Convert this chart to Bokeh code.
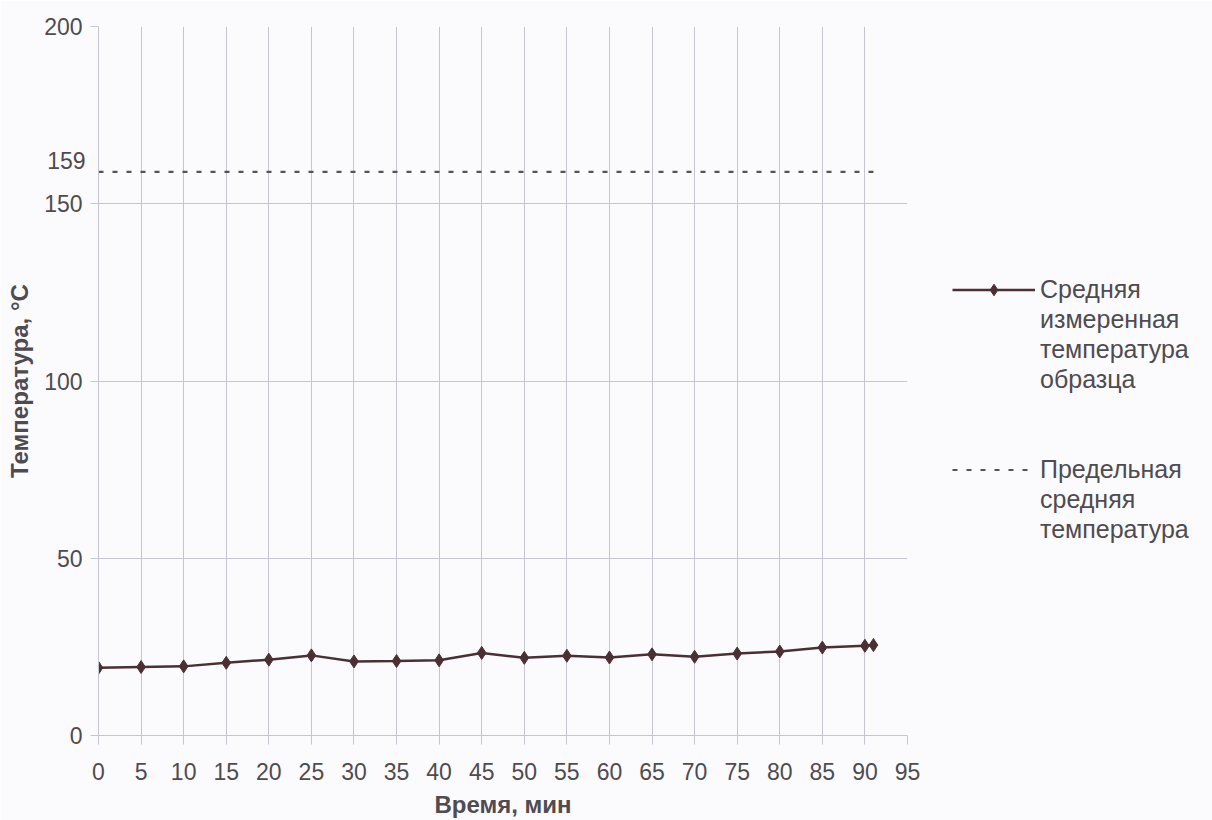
from bokeh.plotting import figure
from bokeh.models import Legend, LegendItem, FixedTicker, Label, ColumnDataSource
from bokeh.embed import file_html
from bokeh.resources import INLINE

# ---- data ----
time_min = [0, 5, 10, 15, 20, 25, 30, 35, 40, 45, 50, 55, 60, 65, 70, 75, 80, 85, 90, 91]
mean_temp = [19.1, 19.3, 19.5, 20.5, 21.4, 22.6, 20.9, 21.0, 21.2, 23.3,
             21.9, 22.5, 22.0, 22.9, 22.2, 23.1, 23.7, 24.8, 25.3, 25.5]
limit_time = [0, 91]
limit_value = 159
limit_temp = [limit_value, limit_value]
x_ticks = list(range(0, 100, 5))
y_ticks = [0, 50, 100, 150, 200]
series_labels = [
    ["Средняя", "измеренная", "температура", "образца"],
    ["Предельная", "средняя", "температура"],
]
x_label = "Время, мин"
y_label = "Температура, °C"

FONT = "Liberation Sans"
TEXT = "#4f4b50"
GRID = "#c6c6d0"
BG = "#fbfbfd"

p = figure(frame_width=809, frame_height=709, x_range=(0, 95), y_range=(0, 200),
           output_backend="svg", toolbar_location=None,
           min_border_left=98, min_border_top=26, min_border_right=305, min_border_bottom=85)
p.background_fill_color = BG
p.border_fill_color = BG
p.outline_line_color = None

# grid
p.xgrid.ticker = FixedTicker(ticks=x_ticks)
p.ygrid.ticker = FixedTicker(ticks=y_ticks)
for g in (p.xgrid, p.ygrid):
    g.grid_line_color = GRID
    g.grid_line_width = 1

# axes
p.xaxis.ticker = FixedTicker(ticks=x_ticks)
p.yaxis.ticker = FixedTicker(ticks=y_ticks)
for ax in (p.xaxis, p.yaxis):
    ax.axis_line_color = GRID
    ax.major_tick_line_color = GRID
    ax.minor_tick_line_color = None
    ax.major_tick_in = 0
    ax.major_label_text_font = FONT
    ax.major_label_text_font_size = "23px"
    ax.major_label_text_color = TEXT
    ax.axis_label_text_font = FONT
    ax.axis_label_text_font_size = "24px"
    ax.axis_label_text_font_style = "bold"
    ax.axis_label_text_color = TEXT
p.xaxis.major_tick_out = 9
p.yaxis.major_tick_out = 8
p.xaxis.major_label_standoff = 18
p.yaxis.major_label_standoff = 8
p.xaxis.axis_label = x_label
p.yaxis.axis_label = y_label
p.xaxis.axis_label_standoff = 8
p.yaxis.axis_label_standoff = 8

# series
src = ColumnDataSource(dict(t=time_min, v=mean_temp))
limit_r = p.line(limit_time, limit_temp, line_color="#555358", line_width=2.2, line_dash="5 9")
line_r = p.line("t", "v", source=src, line_color="#4a3034", line_width=2.5)
mark_r = p.scatter("t", "v", source=src, marker="diamond", size=13,
                   fill_color="#4a3034", line_color="#4a3034")
dummy = p.line(x=[], y=[], line_alpha=0)

# legend (outside the frame, right side)
items = [LegendItem(label=series_labels[0][0], renderers=[line_r, mark_r])]
items += [LegendItem(label=lab, renderers=[dummy]) for lab in series_labels[0][1:]]
items += [LegendItem(label=" ", renderers=[dummy]), LegendItem(label="  ", renderers=[dummy])]
items += [LegendItem(label=series_labels[1][0], renderers=[limit_r])]
items += [LegendItem(label=lab, renderers=[dummy]) for lab in series_labels[1][1:]]

legend = Legend(items=items, location=(45, 191), glyph_width=83, glyph_height=29,
                label_height=29, spacing=1, padding=0, margin=0, label_standoff=5,
                border_line_color=None, background_fill_alpha=0,
                label_text_font=FONT, label_text_font_size="25px", label_text_color=TEXT)
p.add_layout(legend, "right")

# 159 label beside the y axis (placed in the roomy right panel so it is not clipped)
p.add_layout(Label(x=0, y=limit_value, text=str(limit_value), x_offset=-13, y_offset=11,
                   text_align="right", text_baseline="middle", text_font=FONT,
                   text_font_size="23px", text_color=TEXT), "right")

open("out.html", "w").write(file_html(p, INLINE))
